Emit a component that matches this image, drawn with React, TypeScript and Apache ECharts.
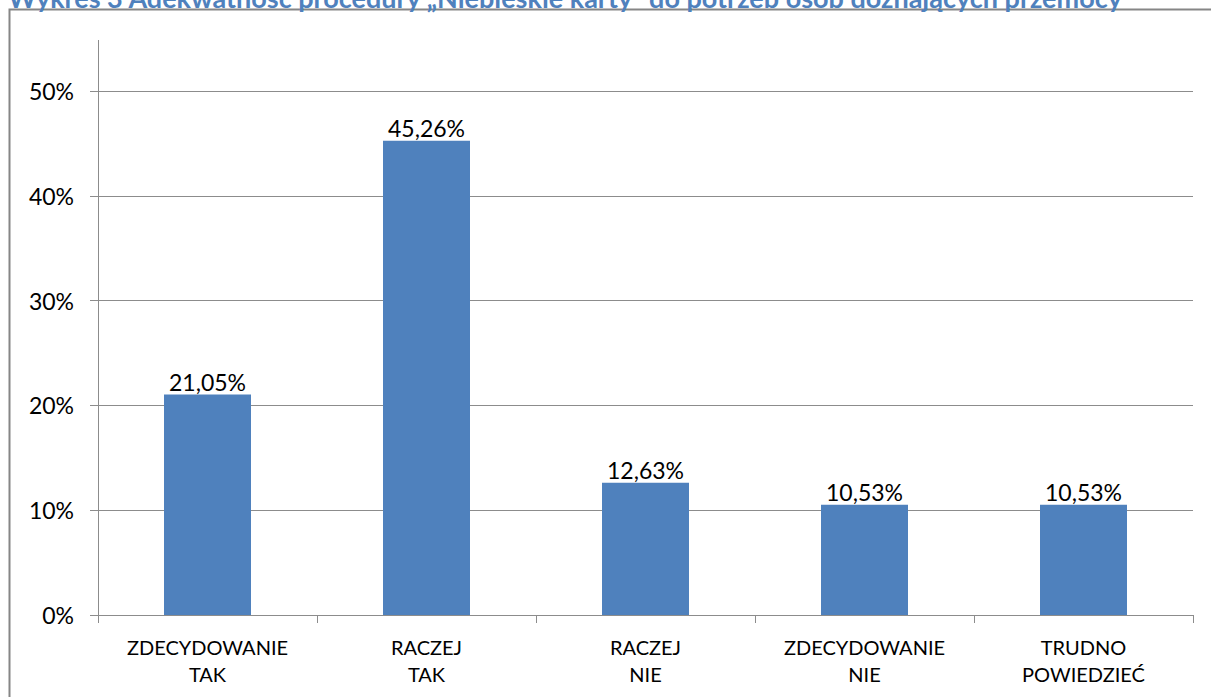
import React, { useEffect, useRef } from "react";
import * as echarts from "echarts";

const categories = [
  "ZDECYDOWANIE\nTAK",
  "RACZEJ\nTAK",
  "RACZEJ\nNIE",
  "ZDECYDOWANIE\nNIE",
  "TRUDNO\nPOWIEDZIEĆ",
];
const values = [21.05, 45.26, 12.63, 10.53, 10.53];
const yTicks = [0, 10, 20, 30, 40, 50];
const title =
  "Wykres 3 Adekwatność procedury \u201ENiebieskie karty\u201D do potrzeb osób doznających przemocy";

const FONT = "Lato, 'Open Sans', sans-serif";
const GREY = "#8c8c8c";

export default function App() {
  const ref = useRef<HTMLDivElement>(null);
  useEffect(() => {
    if (!ref.current) return;
    const chart = echarts.init(ref.current, undefined, { renderer: "svg" });
    chart.setOption({
      animation: false,
      backgroundColor: "#ffffff",
      textStyle: { fontFamily: FONT },
      grid: { left: 98, right: 18, top: 91, bottom: 82, containLabel: false },
      graphic: [
        {
          type: "rect",
          shape: { x: 9.5, y: 9.5, width: 1220, height: 720 },
          style: { fill: "none", stroke: "#868686", lineWidth: 2 },
          silent: true,
        },
        {
          type: "line",
          shape: { x1: 98.5, y1: 40, x2: 98.5, y2: 91 },
          style: { stroke: GREY, lineWidth: 1 },
          silent: true,
        },
        {
          type: "text",
          x: 8,
          y: 11,
          style: {
            text: title,
            fill: "#4F81BD",
            font: `bold 27px ${FONT}`,
            align: "left",
            verticalAlign: "bottom",
          },
          silent: true,
        },
      ],
      xAxis: {
        type: "category",
        data: categories,
        boundaryGap: true,
        axisLine: { show: true, lineStyle: { color: GREY, width: 1 } },
        axisTick: { show: true, length: 8, lineStyle: { color: GREY } },
        axisLabel: {
          color: "#000",
          fontSize: 20,
          lineHeight: 27,
          margin: 18,
          interval: 0,
          fontFamily: FONT,
        },
        splitLine: { show: false },
      },
      yAxis: {
        type: "value",
        min: 0,
        max: 50,
        interval: 10,
        axisLine: { show: true, lineStyle: { color: GREY, width: 1 } },
        axisTick: { show: true, length: 8, lineStyle: { color: GREY } },
        axisLabel: {
          color: "#000",
          fontSize: 23,
          margin: 24,
          fontFamily: FONT,
          formatter: (v: number) => (yTicks.includes(v) ? `${v}%` : ""),
        },
        splitLine: { show: true, lineStyle: { color: GREY, width: 1 } },
      },
      series: [
        {
          type: "bar",
          data: values,
          barWidth: 87,
          itemStyle: { color: "#4F81BD" },
          label: {
            show: true,
            position: "top",
            distance: 1,
            color: "#000",
            fontSize: 23,
            fontFamily: FONT,
            formatter: (p: any) => `${p.value.toFixed(2).replace(".", ",")}%`,
          },
        },
      ],
    });
    return () => chart.dispose();
  }, []);
  return (
    <div
      ref={ref}
      style={{ position: "absolute", left: 0, top: 0, width: 1211, height: 697 }}
    />
  );
}
